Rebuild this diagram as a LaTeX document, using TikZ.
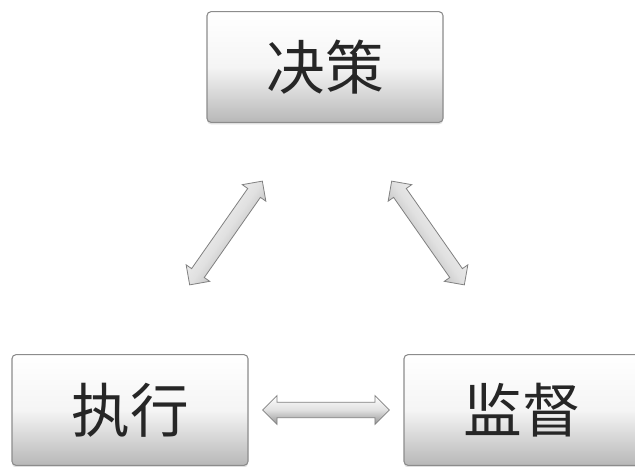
\documentclass[tikz,border=0pt]{standalone}
\usepackage{fontspec}
\newfontfamily\cjk{Noto Sans CJK SC}
\usetikzlibrary{shapes.arrows,shadows,calc}
\begin{document}
\begin{tikzpicture}[x=0.75pt,y=-0.75pt,
  box/.style={rectangle, rounded corners=3pt, minimum width=177pt, minimum height=83pt,
    top color=white, bottom color=black!28, middle color=black!4,
    draw=black!45, line width=0.8pt,
    drop shadow={opacity=0.25, shadow xshift=0pt, shadow yshift=-1.5pt},
    font=\cjk\fontsize{44}{44}\selectfont, text=black!85},
  fatarrow/.style={double arrow, double arrow head extend=5pt, minimum width=21pt,
    inner xsep=0pt, inner ysep=5.5pt, top color=white, bottom color=black!42, middle color=black!12,
    draw=black!50, line width=0.6pt},
]
\clip (0,0) rectangle (635,467);
\fill[white] (0,0) rectangle (635,467);
\node[box] (jc) at (325,67) {决策};
\node[box] (zx) at (130,410) {执行};
\node[box] (jd) at (522,410) {监督};
\node[fatarrow, shading angle=55, minimum height=95pt, rotate=55] (a1) at (226,233) {};
\node[fatarrow, shading angle=-55, minimum height=95pt, rotate=-55] (a2) at (428,233) {};
\node[fatarrow, minimum height=95pt] (a3) at ($(zx.east)!0.5!(jd.west)$) {};
\end{tikzpicture}
\end{document}
